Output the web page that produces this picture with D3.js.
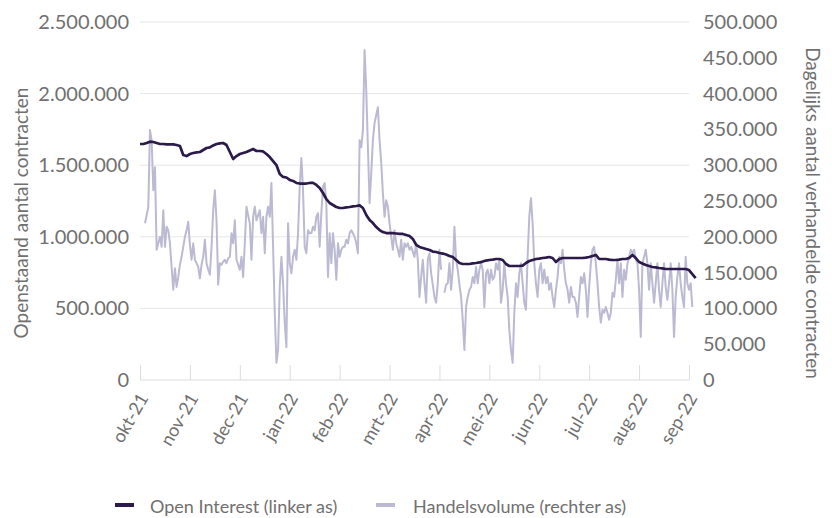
<!DOCTYPE html>
<html><head><meta charset="utf-8">
<script src="https://cdn.jsdelivr.net/npm/d3@7"></script>
<style>
body{margin:0;background:#fff}
svg{display:block}
text{font-family:Lato,"Open Sans",sans-serif;font-weight:400;fill:#707070}
</style>
</head><body>
<svg id="chart" width="832" height="518"></svg>
<script>
// ---------- DATA ----------
const months = ["okt-21","nov-21","dec-21","jan-22","feb-22","mrt-22","apr-22","mei-22","jun-22","jul-22","aug-22","sep-22"];
const leftTicks = [0, 500000, 1000000, 1500000, 2000000, 2500000];
const rightTicks = [0, 50000, 100000, 150000, 200000, 250000, 300000, 350000, 400000, 450000, 500000];

// Open interest (thousands of contracts), one reading every 1/15 month from okt-21
const oiStepMonths = 1/15;
const openInterest = [
1648,1648,1655,1664,1662,1655,1648,1648,1645,1645,
1645,1641,1634,1571,1564,1578,1585,1589,1592,1606,
1620,1624,1638,1648,1652,1655,1641,1592,1543,1564,
1578,1585,1592,1603,1613,1599,1599,1596,1578,1557,
1529,1501,1438,1418,1414,1397,1390,1376,1372,1372,
1372,1376,1376,1362,1341,1306,1264,1236,1222,1208,
1201,1201,1205,1208,1212,1215,1219,1201,1152,1117,
1096,1068,1047,1033,1026,1026,1026,1023,1020,1020,
1013,1006,985,943,929,922,915,908,897,894,
887,883,876,866,859,838,817,810,810,810,
814,817,821,827,834,838,841,845,845,838,
810,796,796,796,796,799,817,831,838,845,
848,852,855,859,852,824,845,852,852,852,
852,852,852,852,855,859,866,873,845,845,
845,841,838,838,841,845,845,852,873,852,
824,814,803,796,789,786,782,779,775,775,
775,775,775,775,775,768,740,712
];

// Daily trading volume (thousands of contracts), one reading every 1/30 month, starting 0.1 month after okt-21
const volStartMonths = 0.1;
const volStepMonths = 1/30;
const volume = [
219,230,242,349,335,265,297,182,191,200,
186,237,186,214,209,191,158,126,156,130,
144,161,172,186,200,209,221,189,168,191,
168,163,158,142,161,172,196,163,154,147,
186,237,265,223,133,163,161,165,168,163,
170,172,205,191,223,168,161,154,172,144,
191,242,230,219,168,228,242,223,230,237,
205,228,177,228,242,228,275,186,94,24,
42,130,172,135,80,46,219,163,149,172,
182,168,205,270,310,265,186,177,209,205,
205,214,209,228,233,186,233,270,275,247,
144,205,163,205,182,140,191,172,182,186,
186,196,191,205,209,205,200,191,177,335,
325,349,461,405,325,247,289,335,359,370,
381,335,303,261,228,251,242,219,200,182,
209,191,182,172,196,168,191,186,191,182,
186,179,172,191,168,116,144,168,135,108,
168,177,149,133,116,108,135,182,154,null,
122,133,135,163,126,154,214,168,154,133,
116,84,42,102,116,126,130,144,135,158,
135,154,163,154,102,149,154,135,154,140,
144,163,154,168,108,126,163,135,116,70,
42,24,94,135,116,149,163,135,108,98,
172,228,254,219,163,135,116,154,163,135,
154,135,144,126,135,116,102,126,144,172,
163,182,154,135,126,108,130,116,116,108,
88,116,144,135,149,126,88,130,163,182,
186,163,135,102,80,98,94,102,94,84,
94,122,116,140,168,135,163,116,154,140,
163,172,182,177,182,168,163,126,60,163,
172,182,163,126,163,135,108,135,163,126,
102,135,163,130,112,135,163,126,60,116,
144,163,135,116,102,172,135,126,135,102
];

const seriesNames = ["Open Interest (linker as)", "Handelsvolume (rechter as)"];
const colors = {oi: "#2b1a4a", vol: "#bcbad3", grid: "#e6e6e6", axis: "#dcdcdc", text: "#707070"};

// ---------- CHART ----------
const svg = d3.select("#chart");
const plotL = 140, plotR = 689, plotT = 22, plotB = 380;

const nl = d3.formatLocale({decimal: ",", thousands: ".", grouping: [3], currency: ["€", ""]});
const fmt = nl.format(",d");

const x = d3.scaleLinear().domain([0, months.length - 1]).range([plotL, plotR]);
const yL = d3.scaleLinear().domain([0, 2500000]).range([plotB, plotT]);
const yR = d3.scaleLinear().domain([0, 500000]).range([plotB, plotT]);

// gridlines
svg.append("g").selectAll("line").data(leftTicks.filter(d => d > 0)).join("line")
  .attr("x1", plotL).attr("x2", plotR)
  .attr("y1", d => yL(d)).attr("y2", d => yL(d))
  .attr("stroke", colors.grid).attr("stroke-width", 1);

// x axis baseline + inward ticks
const xAxis = d3.axisTop(x).tickValues(d3.range(months.length)).tickSize(15).tickFormat("");
const gx = svg.append("g").attr("transform", `translate(0,${plotB})`).call(xAxis);
gx.select(".domain").attr("stroke", colors.axis).attr("d", `M${plotL},0H${plotR}`);
gx.selectAll(".tick line").attr("stroke", colors.axis);

// x labels rotated
svg.append("g").selectAll("text").data(months).join("text")
  .attr("transform", (d, i) => `translate(${x(i) + 9},${plotB + 18}) rotate(-60)`)
  .attr("text-anchor", "end")
  .style("font-size", "18px")
  .text(d => d);

// left axis labels
const gl = svg.append("g").attr("transform", `translate(${plotL - 11},0)`)
  .call(d3.axisLeft(yL).tickValues(leftTicks).tickSize(0).tickPadding(0).tickFormat(fmt));
gl.select(".domain").remove();
gl.selectAll("text").style("font-size", "20px").style("font-family", "Lato, 'Open Sans', sans-serif")
  .attr("fill", colors.text);

// right axis labels
const gr = svg.append("g").attr("transform", `translate(${plotR + 14},0)`)
  .call(d3.axisRight(yR).tickValues(rightTicks).tickSize(0).tickPadding(0).tickFormat(fmt));
gr.select(".domain").remove();
gr.selectAll("text").style("font-size", "20px").style("font-family", "Lato, 'Open Sans', sans-serif")
  .attr("fill", colors.text);

// axis titles
svg.append("text")
  .attr("transform", `translate(28,${(plotT + plotB) / 2 + 12}) rotate(-90)`)
  .attr("text-anchor", "middle").style("font-size", "19px")
  .text("Openstaand aantal contracten");
svg.append("text")
  .attr("transform", `translate(806,${(plotT + plotB) / 2 + 12}) rotate(90)`)
  .attr("text-anchor", "middle").style("font-size", "19px")
  .text("Dagelijks aantal verhandelde contracten");

// volume line (right axis)
const volLine = d3.line()
  .defined(d => d !== null)
  .x((d, i) => x(volStartMonths + i * volStepMonths))
  .y(d => yR(d * 1000));
svg.append("path").datum(volume)
  .attr("d", volLine).attr("fill", "none")
  .attr("stroke", colors.vol).attr("stroke-width", 2).attr("stroke-linejoin", "round");

// open interest line (left axis)
const oiLine = d3.line()
  .x((d, i) => x(i * oiStepMonths))
  .y(d => yL(d * 1000));
svg.append("path").datum(openInterest)
  .attr("d", oiLine).attr("fill", "none")
  .attr("stroke", colors.oi).attr("stroke-width", 2.7).attr("stroke-linejoin", "round");

// legend
const legend = [
  {name: seriesNames[0], color: colors.oi, sx: 115, tx: 150},
  {name: seriesNames[1], color: colors.vol, sx: 376, tx: 413}
];
const lg = svg.append("g");
lg.selectAll("rect").data(legend).join("rect")
  .attr("x", d => d.sx).attr("y", 503).attr("width", 19).attr("height", 4)
  .attr("fill", d => d.color);
lg.selectAll("text").data(legend).join("text")
  .attr("x", d => d.tx).attr("y", 513)
  .style("font-size", "18px").text(d => d.name);
</script>
</body></html>
